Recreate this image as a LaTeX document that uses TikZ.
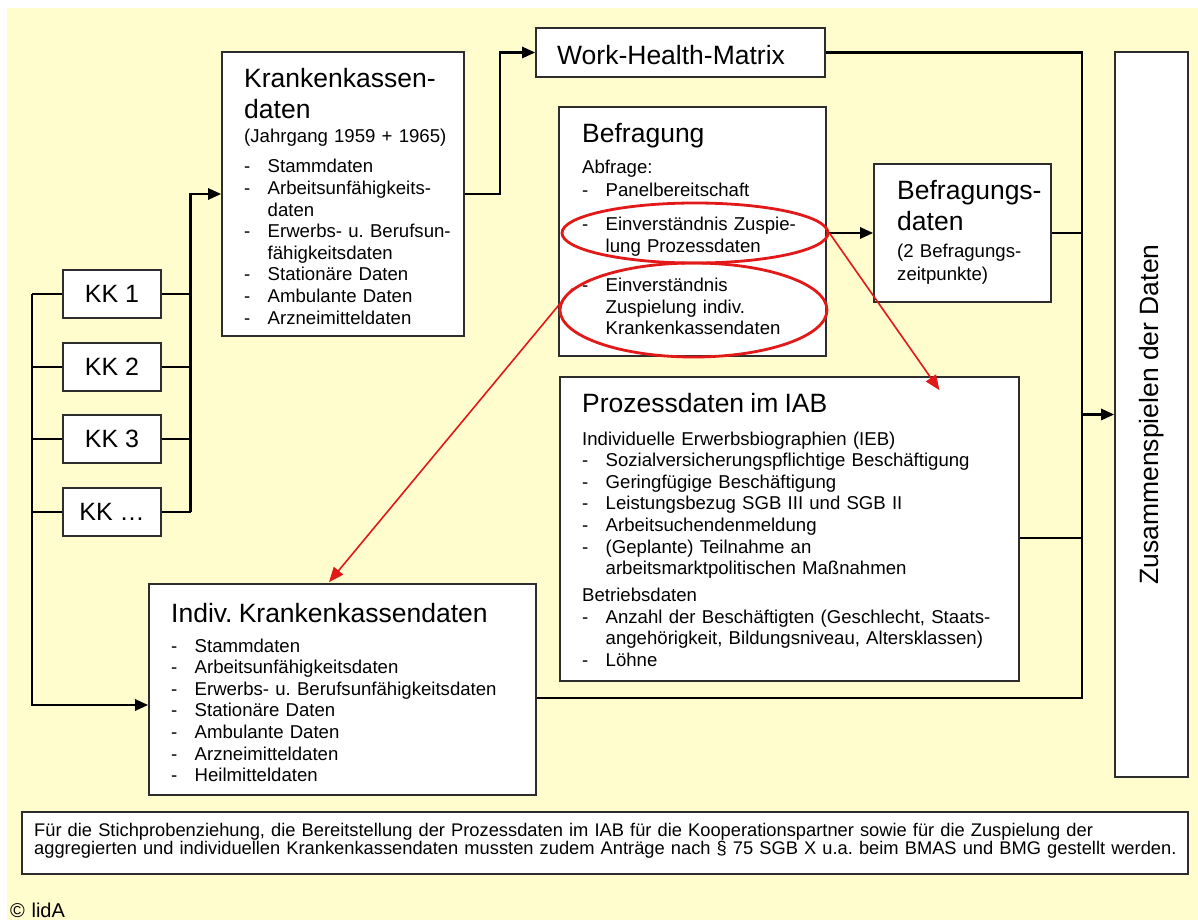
\documentclass[tikz,border=0pt]{standalone}
\usepackage{fontspec}
\setmainfont{Liberation Sans}
\usetikzlibrary{shapes}
\usetikzlibrary{arrows.meta}
\usetikzlibrary{positioning}
\usetikzlibrary{calc}
\frenchspacing
\definecolor{papier}{RGB}{255,252,205}
\definecolor{rahmen}{RGB}{45,45,45}
\definecolor{rot}{RGB}{225,25,25}
\newcommand{\hfont}{\fontsize{26.5}{31}\selectfont}
\newcommand{\tfont}{\fontsize{18.6}{21.6}\selectfont\lineskiplimit=-50pt\relax}
\newcommand{\nfont}{\fontsize{18.3}{17.8}\selectfont\lineskiplimit=-50pt\relax}
\newcommand{\itm}[1]{\makebox[23.5pt][l]{-}#1}
\newcommand{\itmc}[1]{\hspace*{23.5pt}#1}
\tikzstyle{kasten}=[rectangle,draw=rahmen,line width=1.6pt,fill=white,inner sep=0pt]
\tikzstyle{inhalt}=[anchor=base west,inner sep=0pt,align=left,text width=520pt,font=\tfont]
\tikzstyle{kk}=[kasten,minimum width=98pt,minimum height=48pt,font=\fontsize{25}{28}\selectfont]
\tikzstyle{linie}=[line width=2.6pt,black]
\tikzstyle{pfeil}=[linie,-{Triangle[length=13pt,width=11pt]}]
\tikzstyle{oval}=[ellipse,draw=rot,line width=2.8pt,inner sep=0pt]
\tikzstyle{rotpfeil}=[draw=rot,line width=1.6pt,-{Triangle[length=15pt,width=12pt]}]

\begin{document}
\begin{tikzpicture}[x=1pt,y=-1pt]
\useasboundingbox (0,0) rectangle (1198,920);
\fill[papier] (7,8) rectangle (1198,920);
%Kaesten
\node[kasten,minimum width=289pt,minimum height=49pt] (whm) at (680.5,52.5) {};
\node[kasten,minimum width=242pt,minimum height=284pt] (kkd) at (343,194) {};
\node[kasten,minimum width=267pt,minimum height=249pt] (bef) at (692.5,231.5) {};
\node[kasten,minimum width=177pt,minimum height=138pt] (befd) at (962.5,233) {};
\node[kasten,minimum width=459pt,minimum height=304pt] (proz) at (789.5,529) {};
\node[kasten,minimum width=387pt,minimum height=211pt] (indiv) at (342.5,689.5) {};
\node[kasten,minimum width=73pt,minimum height=725pt] (zus) at (1151.5,414.5) {};
\node[kasten,minimum width=1166pt,minimum height=62pt] (hinweis) at (605,843) {};
\node[kk] (kk1) at (112,294) {KK 1};
\node[kk] (kk2) at (112,367) {KK 2};
\node[kk] (kk3) at (112,439) {KK 3};
\node[kk] (kk4) at (112,512) {KK …};
%Texte
\node[inhalt] (whmtext) at (557,65) {\hfont Work-Health-Matrix};
\node[inhalt] (kkdtext) at (244,88) {{\hfont Krankenkassen-}\\[9.4pt]{\hfont daten}\\[2.4pt]
(Jahrgang 1959 + 1965)\\[8.4pt]
\itm{Stammdaten}\\
\itm{Arbeitsunfähigkeits-}\\
\itmc{daten}\\
\itm{Erwerbs- u. Berufsun-}\\
\itmc{fähigkeitsdaten}\\
\itm{Stationäre Daten}\\
\itm{Ambulante Daten}\\
\itm{Arzneimitteldaten}};
\node[inhalt] (beftext) at (582,143) {{\hfont Befragung}\\[9.4pt]
Abfrage:\\[1.4pt]
\itm{Panelbereitschaft}\\[11.4pt]
\itm{Einverständnis Zuspie-}\\[0.4pt]
\itmc{lung Prozessdaten}\\[18.4pt]
\itm{Einverständnis}\\[-0.6pt]
\itmc{Zuspielung indiv.}\\
\itmc{Krankenkassendaten}};
\node[inhalt] (befdtext) at (897,200) {{\hfont Befragungs-}\\[8.4pt]{\hfont daten}\\[5.4pt]
(2 Befragungs-\\[1.4pt]
zeitpunkte)};
\node[inhalt] (proztext) at (582,412) {{\hfont Prozessdaten im IAB}\\[11.4pt]
Individuelle Erwerbsbiographien (IEB)\\
\itm{Sozialversicherungspflichtige Beschäftigung}\\
\itm{Geringfügige Beschäftigung}\\
\itm{Leistungsbezug SGB III und SGB II}\\
\itm{Arbeitsuchendenmeldung}\\
\itm{(Geplante) Teilnahme an}\\
\itmc{arbeitsmarktpolitischen Maßnahmen}\\[5.4pt]
Betriebsdaten\\
\itm{Anzahl der Beschäftigten (Geschlecht, Staats-}\\
\itmc{angehörigkeit, Bildungsniveau, Altersklassen)}\\
\itm{Löhne}};
\node[inhalt] (indivtext) at (171,622) {{\hfont Indiv. Krankenkassendaten}\\[8.4pt]
\itm{Stammdaten}\\
\itm{Arbeitsunfähigkeitsdaten}\\
\itm{Erwerbs- u. Berufsunfähigkeitsdaten}\\
\itm{Stationäre Daten}\\
\itm{Ambulante Daten}\\
\itm{Arzneimitteldaten}\\
\itm{Heilmitteldaten}};
\node[rotate=90,font=\hfont] (zustext) at (zus.center) {Zusammenspielen der Daten};
\node[inhalt,text width=1160pt,font=\nfont] (hinweistext) at (34,836.5) {Für die Stichprobenziehung, die Bereitstellung der Prozessdaten im IAB für die Kooperationspartner sowie für die Zuspielung der\\
aggregierten und individuellen Krankenkassendaten mussten zudem Anträge nach § 75 SGB X u.a. beim BMAS und BMG gestellt werden.};
\node[inhalt,font=\fontsize{20}{22}\selectfont] (copy) at (10,917) {© lidA};
%Verbindungen
\coordinate (links) at (32,0);
\coordinate (rechts) at (190.5,0);
\coordinate (sammel) at (1082,0);
\foreach \k in {1,2,3,4} {
  \draw[linie] (kk\k.west) -- (kk\k.west -| links);
  \draw[linie] (kk\k.east) -- (kk\k.east -| rechts);
}
\draw[pfeil] (kk1.west -| links) -- ($(indiv.west -| links)+(0,15.5)$) -- ($(indiv.west)+(0,15.5)$);
\draw[pfeil] (kk4.east -| rechts) -- (kkd.west -| rechts) -- (kkd.west);
\draw[pfeil] (kkd.east) -- ++(35,0) |- (whm.west);
\draw[pfeil] (bef.east |- befd.west) -- (befd.west);
\draw[linie] (whm.east) -- (whm.east -| sammel) -- ($(indiv.east -| sammel)+(0,8.5)$) -- ($(indiv.east)+(0,8.5)$);
\draw[linie] (befd.east) -- (befd.east -| sammel);
\draw[linie] ($(proz.east)+(0,9)$) -- ($(proz.east -| sammel)+(0,9)$);
\draw[pfeil] (zus.west -| sammel) -- (zus.west);
%Einverstaendnis
\node[oval,minimum width=266pt,minimum height=60pt] (zust1) at (695,233) {};
\node[oval,minimum width=267pt,minimum height=94pt] (zust2) at (693.5,310) {};
\draw[rotpfeil] (zust1.east) -- ($(proz.north)+(150,14)$);
\draw[rotpfeil] (zust2.170) -- ($(indiv.north)+(-13.5,-1)$);
\end{tikzpicture}
\end{document}
